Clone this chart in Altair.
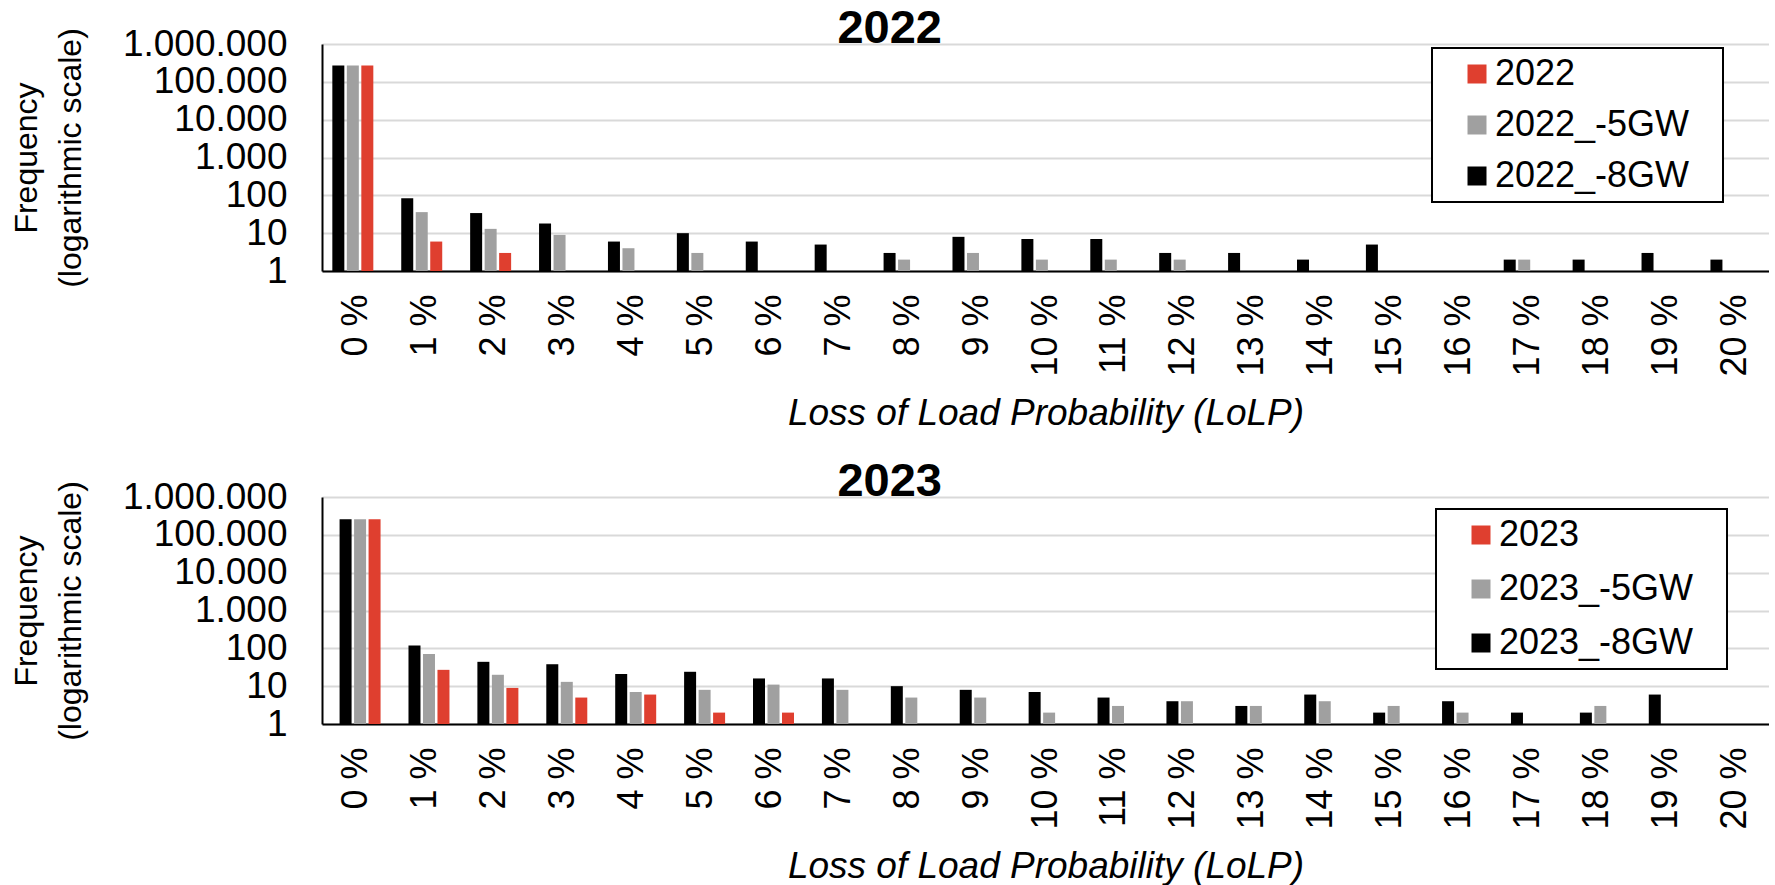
import altair as alt
import pandas as pd

FONT = "Liberation Sans"
RED = "#DF3F2F"
GRAY = "#A0A0A0"
BLACK = "#000000"

# Loss of Load Probability classes
lolp = [f"{i} %" for i in range(21)]

# Frequencies per LoLP class (0 = no occurrence)
names_2022 = ["2022", "2022_-5GW", "2022_-8GW"]
freq_2022 = [270000, 6, 3, 0, 0, 0, 0, 0, 0, 0, 0, 0, 0, 0, 0, 0, 0, 0, 0, 0, 0]
freq_2022_5gw = [270000, 36, 13, 9, 4, 3, 0, 0, 2, 3, 2, 2, 2, 0, 0, 0, 0, 2, 0, 0, 0]
freq_2022_8gw = [270000, 84, 34, 18, 6, 10, 6, 5, 3, 8, 7, 7, 3, 3, 2, 5, 0, 2, 2, 3, 2]

names_2023 = ["2023", "2023_-5GW", "2023_-8GW"]
freq_2023 = [258000, 27, 9, 5, 6, 2, 2, 0, 0, 0, 0, 0, 0, 0, 0, 0, 0, 0, 0, 0, 0]
freq_2023_5gw = [258000, 71, 20, 13, 7, 8, 11, 8, 5, 5, 2, 3, 4, 3, 4, 3, 2, 0, 3, 0, 0]
freq_2023_8gw = [258000, 118, 44, 38, 21, 24, 16, 16, 10, 8, 7, 5, 4, 3, 6, 2, 4, 2, 2, 6, 0]

y_ticks = [1, 10, 100, 1000, 10000, 100000, 1000000]


def panel(year, names, columns, legend_x, legend_y, row_gap):
    rows = []
    for name, vals in zip(names, columns):
        for cat, v in zip(lolp, vals):
            rows.append({"LoLP": cat, "series": name, "freq": v})
    df = pd.DataFrame(rows)

    return (
        alt.Chart(df)
        .transform_filter("datum.freq > 0")
        .mark_bar(width=12)
        .encode(
            x=alt.X(
                "LoLP:N",
                scale=alt.Scale(domain=lolp, paddingInner=0.39, paddingOuter=0.195),
                axis=alt.Axis(
                    title="Loss of Load Probability (LoLP)",
                    titleFont=FONT,
                    titleFontSize=37,
                    titleFontStyle="italic",
                    titleFontWeight="normal",
                    titleColor="black",
                    titlePadding=19,
                    labelFont=FONT,
                    labelFontSize=36,
                    labelColor="black",
                    labelAngle=-90,
                    labelPadding=23,
                    ticks=False,
                    domainColor="black",
                    domainWidth=2,
                    grid=False,
                ),
            ),
            xOffset=alt.XOffset(
                "series:N",
                sort=names[::-1],
                scale=alt.Scale(paddingInner=0.2, paddingOuter=0),
            ),
            y=alt.Y(
                "freq:Q",
                scale=alt.Scale(type="log", domain=[1, 1000000]),
                axis=alt.Axis(
                    values=y_ticks,
                    labelExpr="replace(format(datum.value, ','), regexp(',', 'g'), '.')",
                    title=["Frequency", "(logarithmic scale)"],
                    titleFont=FONT,
                    titleFontSize=32,
                    titleFontWeight="normal",
                    titleColor="black",
                    titleLineHeight=44,
                    titlePadding=35,
                    labelFont=FONT,
                    labelFontSize=37,
                    labelColor="black",
                    labelPadding=35,
                    ticks=False,
                    domainColor="black",
                    domainWidth=2,
                    grid=True,
                    gridColor="#D9D9D9",
                    gridWidth=2,
                ),
            ),
            y2=alt.datum(1),
            color=alt.Color(
                "series:N",
                scale=alt.Scale(domain=names, range=[RED, GRAY, BLACK]),
                legend=alt.Legend(
                    # blank title on the right keeps a margin after the labels
                    title="\u00a0",
                    titleOrient="right",
                    titleFontSize=10,
                    titlePadding=26,
                    orient="none",
                    legendX=legend_x,
                    legendY=legend_y,
                    strokeColor="black",
                    fillColor="white",
                    padding=8,
                    symbolType="square",
                    symbolSize=361,
                    symbolStrokeWidth=0,
                    symbolOffset=19,
                    labelFont=FONT,
                    labelFontSize=36,
                    labelColor="black",
                    labelOffset=0,
                    labelLimit=500,
                    rowPadding=row_gap,
                ),
            ),
        )
        .properties(
            width=1447,
            height=227,
            title=alt.Title(
                year,
                font=FONT,
                fontSize=47,
                fontWeight="bold",
                color="black",
                anchor="middle",
                frame="bounds",
                baseline="alphabetic",
                offset=-65,
            ),
        )
    )


top = panel("2022", names_2022, [freq_2022, freq_2022_5gw, freq_2022_8gw], 1110, 4, 15)
bottom = panel("2023", names_2023, [freq_2023, freq_2023_5gw, freq_2023_8gw], 1114, 12, 18)

chart = (
    alt.vconcat(top, bottom, spacing=26)
    .resolve_scale(color="independent")
    .properties(padding={"left": 10, "top": 5, "right": 0, "bottom": 0}, background="white")
    .configure_view(stroke=None)
    .configure_legend(strokeWidth=2)
)

chart.save("out.html", embed_options={"renderer": "svg", "actions": False})
